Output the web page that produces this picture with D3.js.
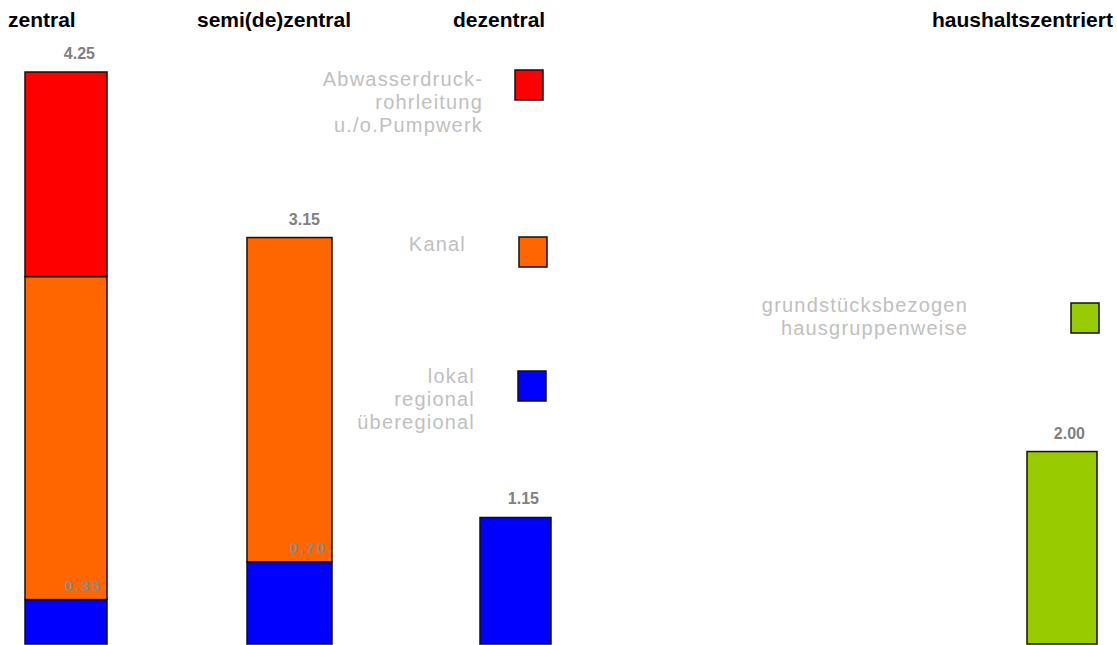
<!DOCTYPE html>
<html lang="de">
<head>
<meta charset="UTF-8">
<title>zentral / dezentral</title>
<style>
  body, html { margin: 0; background: #fff; }
  svg { display: block; font-family: "Liberation Sans", Arial, sans-serif; }
  .head { font-size: 21px; font-weight: bold; fill: #000; }
  .val { font-size: 16px; font-weight: bold; fill: #808080; }
  .inner { font-size: 15px; font-weight: bold; fill: #8a8a8a; letter-spacing: 2px; }
  .leg { font-size: 20px; fill: #c0c0c0; letter-spacing: 1.2px; }
  .bar, .swatch { stroke: #111; stroke-width: 1.5px; }
</style>
</head>
<body>
<svg width="1117" height="645"></svg>
<script src="https://d3js.org/d3.v7.min.js"></script>
<script>
// categories (column headers)
const categories = ["zentral", "semi(de)zentral", "dezentral", "haushaltszentriert"];

// stacked segments per category, bottom to top (heights)
const segLokal  = [0.33, 0.61, 0.94, 0];
const segKanal  = [2.40, 2.41, 0, 0];
const segDruck  = [1.52, 0, 0, 0];
const segGrund  = [0, 0, 0, 1.43];

// printed labels
const topLabels   = ["4.25", "3.15", "1.15", "2.00"];
const innerLabels = ["0.35", "0.70", null, null];

const series = [
  { key: "lokal", values: segLokal, color: "#0000ff",
    legend: ["lokal", "regional", "überegional"] },
  { key: "kanal", values: segKanal, color: "#ff6600",
    legend: ["Kanal"] },
  { key: "druck", values: segDruck, color: "#ff0000",
    legend: ["Abwasserdruck-", "rohrleitung", "u./o.Pumpwerk"] },
  { key: "grund", values: segGrund, color: "#99cc00",
    legend: ["grundstücksbezogen", "hausgruppenweise"] }
];

// layout (not data)
const barX = [25, 247, 480, 1027];
const barW = [82, 85, 71, 70];
const headX = [8, 197, 453, 932];
const legendPos = {
  druck: { tx: 483, ty: 86,  sx: 515, sy: 70 },
  kanal: { tx: 466, ty: 251, sx: 519, sy: 237 },
  lokal: { tx: 475, ty: 383, sx: 518, sy: 371 },
  grund: { tx: 968, ty: 312, sx: 1071, sy: 303 }
};

const svg = d3.select("svg");

const y = d3.scaleLinear().domain([0, 4.25]).range([644, 72]);

// headers
svg.append("g").selectAll("text")
  .data(categories)
  .join("text")
  .attr("class", "head")
  .attr("x", (d, i) => headX[i])
  .attr("y", 27)
  .text(d => d);

// stack
const rows = categories.map((c, i) => {
  const r = { cat: c, i: i };
  series.forEach(s => r[s.key] = s.values[i]);
  return r;
});
const stack = d3.stack().keys(series.map(s => s.key))(rows);

const colorOf = d3.scaleOrdinal().domain(series.map(s => s.key)).range(series.map(s => s.color));

svg.append("g").selectAll("g")
  .data(stack)
  .join("g")
  .attr("fill", d => colorOf(d.key))
  .selectAll("rect")
  .data(d => d.filter(p => p[1] - p[0] > 0))
  .join("rect")
  .attr("class", "bar")
  .attr("x", d => barX[d.data.i])
  .attr("width", d => barW[d.data.i])
  .attr("y", d => y(d[1]))
  .attr("height", d => y(d[0]) - y(d[1]));

// totals above bars
const totals = rows.map(r => d3.sum(series, s => r[s.key]));
svg.append("g").selectAll("text")
  .data(topLabels)
  .join("text")
  .attr("class", "val")
  .attr("text-anchor", "end")
  .attr("x", (d, i) => barX[i] + barW[i] - 12)
  .attr("y", (d, i) => y(totals[i]) - 13)
  .text(d => d);

// small labels just above the blue segment
svg.append("g").selectAll("text")
  .data(innerLabels.map((t, i) => ({ t, i })).filter(d => d.t))
  .join("text")
  .attr("class", "inner")
  .attr("text-anchor", "end")
  .attr("x", d => barX[d.i] + barW[d.i] - 5)
  .attr("y", d => y(segLokal[d.i]) - 9)
  .text(d => d.t);

// legend
const leg = svg.append("g").selectAll("g")
  .data(series)
  .join("g");

leg.append("rect")
  .attr("class", "swatch")
  .attr("x", d => legendPos[d.key].sx)
  .attr("y", d => legendPos[d.key].sy)
  .attr("width", 28)
  .attr("height", 30)
  .attr("fill", d => d.color);

leg.append("text")
  .attr("class", "leg")
  .attr("text-anchor", "end")
  .selectAll("tspan")
  .data(d => d.legend.map((l, k) => ({ l, k, p: legendPos[d.key] })))
  .join("tspan")
  .attr("x", d => d.p.tx)
  .attr("y", d => d.p.ty + d.k * 23)
  .text(d => d.l);
</script>
</body>
</html>
